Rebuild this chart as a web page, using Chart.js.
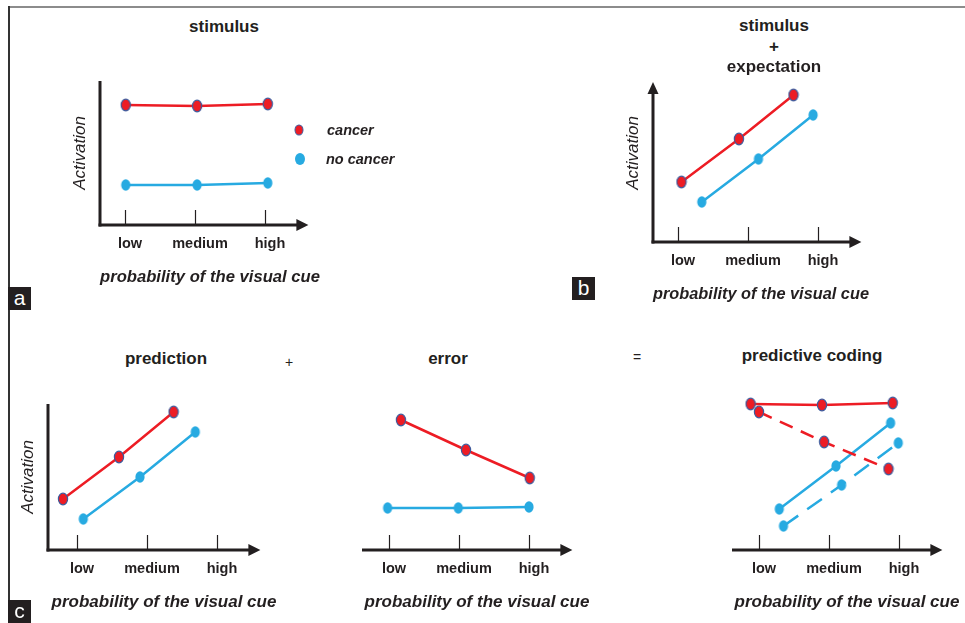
<!DOCTYPE html>
<html lang="en">
<head>
  <meta charset="UTF-8">
  <title>Predictive coding</title>
  <script src="https://cdn.jsdelivr.net/npm/chart.js"></script>
  <style>
    html, body { margin: 0; padding: 0; background: #fff; }
    body { width: 965px; height: 623px; position: relative; overflow: hidden;
           font-family: "Liberation Sans", Arial, sans-serif; color: #231f20; }
    canvas { position: absolute; }
    .t { position: absolute; transform: translate(-50%, -50%); white-space: nowrap;
         line-height: 1; font-weight: bold; font-size: 17px; }
    .op { font-weight: normal; font-size: 14px; }
    .leg { position: absolute; transform: translateY(-50%); white-space: nowrap; line-height: 1;
           font-weight: bold; font-style: italic; font-size: 14.5px; }
    .dot { position: absolute; transform: translate(-50%, -50%); border-radius: 50%; box-sizing: border-box; }
    .box { position: absolute; width: 23px; height: 23px; background: #231f20; color: #fff;
           font-size: 21px; line-height: 21px; text-align: center; }
    #topline { position: absolute; left: 8px; top: 6px; width: 957px; height: 2px; background: #8c8c8c; }
    #leftline { position: absolute; left: 8px; top: 6px; width: 1.5px; height: 617px; background: #333; }
  </style>
</head>
<body>
  <div id="topline"></div>
  <div id="leftline"></div>

  <canvas id="chartA"></canvas>
  <canvas id="chartB"></canvas>
  <canvas id="chartC"></canvas>
  <canvas id="chartE"></canvas>
  <canvas id="chartP"></canvas>

  <div class="t" style="left:224px; top:26px">stimulus</div>
  <div class="t" style="left:774px; top:25px">stimulus</div>
  <div class="t" style="left:774px; top:46px">+</div>
  <div class="t" style="left:774px; top:66px">expectation</div>
  <div class="t" style="left:166px; top:358px">prediction</div>
  <div class="t op" style="left:289px; top:362px">+</div>
  <div class="t" style="left:448px; top:358px">error</div>
  <div class="t op" style="left:637px; top:357px">=</div>
  <div class="t" style="left:812px; top:355px">predictive coding</div>

  <div class="dot" style="left:299px; top:130px; width:9px; height:11px; background:#ed1c24; border:1px solid #3d5a9c"></div>
  <div class="leg" style="left:327px; top:130px">cancer</div>
  <div class="dot" style="left:300px; top:159px; width:10px; height:12px; background:#27aae1"></div>
  <div class="leg" style="left:326px; top:159px">no cancer</div>

  <div class="box" style="left:8px; top:287px">a</div>
  <div class="box" style="left:572px; top:277px">b</div>
  <div class="box" style="left:8px; top:600px">c</div>

  <script>
    // categories on the x axis
    const cueLabels = ['low', 'medium', 'high'];

    // (a) stimulus
    const stimCancerX = [0.01, 1.03, 2.04];
    const stimCancerY = [12.0, 11.9, 12.1];
    const stimNoCancerX = [0.01, 1.03, 2.04];
    const stimNoCancerY = [4.0, 4.0, 4.2];

    // (b) stimulus + expectation
    const expCancerX = [0.05, 0.87, 1.65];
    const expCancerY = [6.0, 10.3, 14.7];
    const expNoCancerX = [0.34, 1.15, 1.93];
    const expNoCancerY = [4.0, 8.3, 12.7];

    // (c) prediction
    const predCancerX = [-0.2, 0.6, 1.38];
    const predCancerY = [5.1, 9.3, 13.8];
    const predNoCancerX = [0.09, 0.9, 1.69];
    const predNoCancerY = [3.1, 7.3, 11.8];

    // (c) error
    const errCancerX = [0.17, 1.1, 2.01];
    const errCancerY = [13.0, 10.0, 7.2];
    const errNoCancerX = [-0.02, 0.99, 2.0];
    const errNoCancerY = [4.2, 4.2, 4.3];

    // (c) predictive coding
    const pcCancerX = [-0.12, 0.9, 1.91];
    const pcCancerY = [14.6, 14.5, 14.7];
    const pcCancerDashX = [0.0, 0.93, 1.85];
    const pcCancerDashY = [13.8, 10.8, 8.1];
    const pcNoCancerX = [0.29, 1.1, 1.88];
    const pcNoCancerY = [4.1, 8.4, 12.7];
    const pcNoCancerDashX = [0.35, 1.18, 1.99];
    const pcNoCancerDashY = [2.4, 6.5, 10.7];

    const RED = '#ed1c24';
    const BLUE = '#27aae1';
    const INK = '#231f20';

    Chart.defaults.font.family = '"Liberation Sans", Arial, sans-serif';
    Chart.defaults.color = INK;

    // little oval markers like in the figure
    function makeDot(fill, stroke) {
      const c = document.createElement('canvas');
      c.width = 12; c.height = 14;
      const g = c.getContext('2d');
      g.beginPath();
      g.ellipse(6, 7, 4.6, 5.8, 0, 0, Math.PI * 2);
      g.fillStyle = fill;
      g.fill();
      if (stroke) { g.lineWidth = 1.2; g.strokeStyle = stroke; g.stroke(); }
      return c;
    }
    const redDot = makeDot(RED, '#3d5a9c');
    const blueDot = makeDot(BLUE, null);

    function series(xs, ys, color, dash) {
      return {
        data: xs.map((x, i) => ({ x: x, y: ys[i] })),
        borderColor: color,
        backgroundColor: color,
        borderWidth: 2.5,
        borderDash: dash || [],
        pointStyle: color === RED ? redDot : blueDot,
        pointRadius: 6,
        tension: 0,
        clip: false
      };
    }

    // black axes with arrow heads and short category ticks
    const arrowAxes = {
      id: 'arrowAxes',
      beforeDatasetsDraw(chart, args, opts) {
        const { ctx, chartArea, scales: { x, y } } = chart;
        const ay = y.getPixelForValue(0);
        const ax = chartArea.left;
        const tipX = x.getPixelForValue(opts.arrowEnd);
        ctx.save();
        ctx.strokeStyle = INK;
        ctx.fillStyle = INK;
        ctx.lineWidth = 3;
        ctx.beginPath();
        ctx.moveTo(ax - (opts.yAxis ? 1.5 : 0), ay);
        ctx.lineTo(tipX - 10, ay);
        ctx.stroke();
        ctx.beginPath();
        ctx.moveTo(tipX, ay);
        ctx.lineTo(tipX - 12, ay - 6);
        ctx.lineTo(tipX - 12, ay + 6);
        ctx.closePath();
        ctx.fill();
        if (opts.yAxis) {
          const tipY = y.getPixelForValue(opts.yTop);
          ctx.beginPath();
          ctx.moveTo(ax, ay + 1.5);
          ctx.lineTo(ax, tipY + 10);
          ctx.stroke();
          ctx.beginPath();
          ctx.moveTo(ax, tipY);
          ctx.lineTo(ax - 5.5, tipY + 12);
          ctx.lineTo(ax + 5.5, tipY + 12);
          ctx.closePath();
          ctx.fill();
        }
        ctx.lineWidth = 1.2;
        cueLabels.forEach((_, i) => {
          const px = Math.round(x.getPixelForValue(i)) + 0.5;
          ctx.beginPath();
          ctx.moveTo(px, ay);
          ctx.lineTo(px, ay - 15);
          ctx.stroke();
        });
        ctx.restore();
      }
    };

    const PX = 70;   // pixels per category
    const PY = 10;   // pixels per activation unit
    const YW = 30;   // room for the "Activation" title
    const XH = 63;   // room for tick labels and x title

    function panel(id, lay, datasets) {
      const el = document.getElementById(id);
      const yw = lay.yAxis ? YW : 0;
      const areaH = lay.axisY - lay.areaTop;
      el.width = yw + lay.areaW;
      el.height = areaH + XH;
      el.style.left = (lay.lowX - lay.leftGap - yw) + 'px';
      el.style.top = lay.areaTop + 'px';
      const xMin = -lay.leftGap / PX;
      new Chart(el, {
        type: 'line',
        data: { datasets: datasets },
        plugins: [arrowAxes],
        options: {
          responsive: false,
          animation: false,
          events: [],
          layout: { padding: 0, autoPadding: false },
          plugins: {
            legend: { display: false },
            tooltip: { enabled: false },
            arrowAxes: { arrowEnd: 2.62, yTop: 16, yAxis: lay.yAxis }
          },
          scales: {
            x: {
              type: 'linear',
              min: xMin,
              max: xMin + lay.areaW / PX,
              grid: { display: false },
              border: { display: false },
              afterBuildTicks: s => { s.ticks = cueLabels.map((_, i) => ({ value: i })); },
              afterFit: s => { s.height = XH; },
              ticks: {
                padding: 2,
                labelOffset: 5,
                font: { size: 14.5, weight: 'bold' },
                callback: v => cueLabels[v]
              },
              title: {
                display: true,
                text: 'probability of the visual cue',
                padding: { top: 0, bottom: 0 },
                font: { size: 17, weight: 'bold', style: 'italic' }
              }
            },
            y: {
              display: lay.yAxis,
              min: 0,
              max: areaH / PY,
              grid: { display: false },
              border: { display: false },
              ticks: { display: false },
              afterFit: s => { s.width = yw; },
              title: {
                display: true,
                text: 'Activation',
                padding: { top: 0, bottom: 0 },
                font: { size: 17, style: 'italic' }
              }
            }
          }
        }
      });
    }

    panel('chartA', { lowX: 125, leftGap: 25, areaW: 220, axisY: 225, areaTop: 81, yAxis: true }, [
      series(stimCancerX, stimCancerY, RED),
      series(stimNoCancerX, stimNoCancerY, BLUE)
    ]);

    panel('chartB', { lowX: 678, leftGap: 25, areaW: 216, axisY: 242, areaTop: 64, yAxis: true }, [
      series(expCancerX, expCancerY, RED),
      series(expNoCancerX, expNoCancerY, BLUE)
    ]);

    panel('chartC', { lowX: 77, leftGap: 29, areaW: 232, axisY: 550, areaTop: 404, yAxis: true }, [
      series(predCancerX, predCancerY, RED),
      series(predNoCancerX, predNoCancerY, BLUE)
    ]);

    panel('chartE', { lowX: 389, leftGap: 27, areaW: 230, axisY: 550, areaTop: 390, yAxis: false }, [
      series(errCancerX, errCancerY, RED),
      series(errNoCancerX, errNoCancerY, BLUE)
    ]);

    panel('chartP', { lowX: 759, leftGap: 27, areaW: 230, axisY: 550, areaTop: 390, yAxis: false }, [
      series(pcCancerX, pcCancerY, RED),
      series(pcCancerDashX, pcCancerDashY, RED, [14, 9]),
      series(pcNoCancerX, pcNoCancerY, BLUE),
      series(pcNoCancerDashX, pcNoCancerDashY, BLUE, [18, 11])
    ]);
  </script>
</body>
</html>
